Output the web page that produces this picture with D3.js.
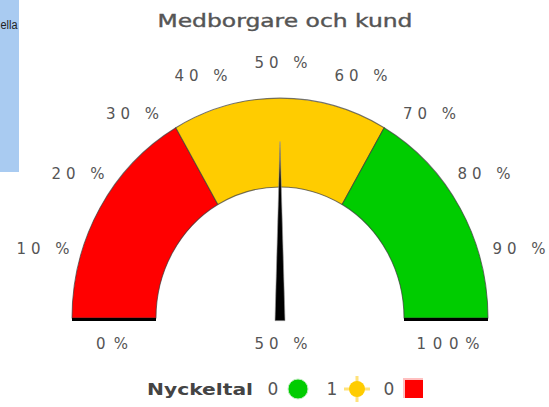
<!DOCTYPE html>
<html><head><meta charset="utf-8">
<script src="https://cdn.jsdelivr.net/npm/d3@7"></script>
<style>body{margin:0;background:#fff}svg{display:block}</style>
</head><body>
<script>
const title = "Medborgare och kund";
const bandStarts = [0, 33.3, 66.7];
const bandEnds = [33.3, 66.7, 100];
const bandColors = ["#ff0000", "#ffcc00", "#00cc00"];
const tickValues = [10, 20, 30, 40, 50, 60, 70, 80, 90];
const tickLabels = ["10 %", "20 %", "30 %", "40 %", "50 %", "60 %", "70 %", "80 %", "90 %"];
const endValues = [0, 100];
const endLabels = ["0%", "100%"];
const gaugeValue = 50;
const valueLabel = "50 %";
const legendTitle = "Nyckeltal";
const legendCounts = [0, 1, 0];
const legendColors = ["#00cc00", "#ffcc00", "#ff0000"];
const sideText = "ella";

const W = 549, H = 407;
const svg = d3.select("body").append("svg").attr("width", W).attr("height", H);

// side panel
svg.append("rect").attr("x", 0).attr("y", 0).attr("width", 19).attr("height", 172).attr("fill", "#a9cbf1");
svg.append("text").attr("x", 0.5).attr("y", 29)
  .attr("font-family", "Liberation Sans, Arial, sans-serif").attr("font-size", 12).attr("fill", "#222")
  .attr("textLength", 17).attr("lengthAdjust", "spacingAndGlyphs").text(sideText);

// title
svg.append("text").attr("x", 285).attr("y", 27).attr("text-anchor", "middle")
  .attr("font-family", "DejaVu Sans, sans-serif").attr("font-size", 18)
  .attr("fill", "#555").attr("stroke", "#555").attr("stroke-width", 0.4)
  .attr("textLength", 255).attr("lengthAdjust", "spacingAndGlyphs").text(title);

const cx = 280, cy = 318, rOuter = 208, rInner = 124, yScale = 1.057;
const angle = d3.scaleLinear().domain([0, 100]).range([-Math.PI / 2, Math.PI / 2]);

const g = svg.append("g").attr("transform", `translate(${cx},${cy}) scale(1,${yScale})`);
const arc = d3.arc().innerRadius(rInner).outerRadius(rOuter);
g.selectAll("path.band").data(bandStarts).join("path").attr("class", "band")
  .attr("d", (d, i) => arc({startAngle: angle(d), endAngle: angle(bandEnds[i])}))
  .attr("fill", (d, i) => bandColors[i])
  .attr("stroke", "#3a3a3a").attr("stroke-width", 1).attr("stroke-opacity", 0.7);

// bottom black lines under the end bands
[[-rOuter, -rInner], [rInner, rOuter]].forEach(([a, b]) => {
  svg.append("rect").attr("x", cx + a).attr("y", cy).attr("width", b - a).attr("height", 3).attr("fill", "#000");
});

// needle
const na = angle(gaugeValue);
const nLen = 167, nHalf = 5;
const tip = [nLen * Math.sin(na), -nLen * Math.cos(na)];
const bl = [-nHalf * Math.cos(na), -nHalf * Math.sin(na)];
const br = [nHalf * Math.cos(na), nHalf * Math.sin(na)];
g.append("path").attr("d", `M${bl[0]},${bl[1] + 2.5}L${tip[0]},${tip[1]}L${br[0]},${br[1] + 2.5}Z`)
  .attr("fill", "#000").attr("stroke", "#999").attr("stroke-width", 0.6);

// tick labels
const labFont = "DejaVu Sans, sans-serif";
svg.selectAll("text.tick").data(tickValues).join("text").attr("class", "tick")
  .attr("x", d => {
    const th = d / 100 * Math.PI, c = Math.cos(th);
    return 281 - (246 * c + 4 * Math.sign(Math.round(c * 1000)));
  })
  .attr("y", d => cy - 269 * Math.sin(d / 100 * Math.PI) + 14)
  .attr("text-anchor", "middle").attr("dominant-baseline", "central")
  .attr("font-family", labFont).attr("font-size", 15).attr("fill", "#555")
  .attr("textLength", 53).attr("lengthAdjust", "spacing")
  .text((d, i) => tickLabels[i]);

// end labels
const endX = d3.scaleLinear().domain([0, 100]).range([cx - (rOuter + rInner) / 2, cx + (rOuter + rInner) / 2]);
svg.selectAll("text.end").data(endValues).join("text").attr("class", "end")
  .attr("x", d => endX(d) + (d === 100 ? 2 : -2)).attr("y", 344)
  .attr("text-anchor", "middle").attr("dominant-baseline", "central")
  .attr("font-family", labFont).attr("font-size", 15).attr("fill", "#555")
  .attr("textLength", (d, i) => i === 0 ? 32 : 63).attr("lengthAdjust", "spacing")
  .text((d, i) => endLabels[i]);

// value label
svg.append("text").attr("x", 281).attr("y", 344).attr("text-anchor", "middle").attr("dominant-baseline", "central")
  .attr("font-family", labFont).attr("font-size", 15).attr("fill", "#555")
  .attr("textLength", 53).attr("lengthAdjust", "spacing").text(valueLabel);

// legend
const ly = 389;
svg.append("text").attr("x", 147).attr("y", ly).attr("dominant-baseline", "central")
  .attr("font-family", "DejaVu Sans, sans-serif").attr("font-size", 16).attr("font-weight", "bold")
  .attr("fill", "#444").attr("textLength", 106).attr("lengthAdjust", "spacingAndGlyphs").text(legendTitle);
const numX = [273, 332, 389];
const symX = [298, 357, 414];
svg.selectAll("text.lnum").data(legendCounts).join("text").attr("class", "lnum")
  .attr("x", (d, i) => numX[i]).attr("y", ly).attr("text-anchor", "middle").attr("dominant-baseline", "central")
  .attr("font-family", labFont).attr("font-size", 17).attr("fill", "#555").text(d => d);
// green circle
svg.append("circle").attr("cx", symX[0]).attr("cy", ly).attr("r", 10).attr("fill", legendColors[0])
  .attr("stroke", "#bfeebf").attr("stroke-width", 1);
// yellow sun
const sg = svg.append("g").attr("transform", `translate(${symX[1]},${ly})`);
sg.append("rect").attr("x", -13).attr("y", -1.5).attr("width", 26).attr("height", 3).attr("fill", "#ffe27a");
sg.append("rect").attr("x", -1.5).attr("y", -13).attr("width", 3).attr("height", 26).attr("fill", "#ffe27a");
sg.append("circle").attr("r", 8).attr("fill", legendColors[1]);
// red square
svg.append("rect").attr("x", symX[2] - 9).attr("y", ly - 9).attr("width", 18).attr("height", 18)
  .attr("fill", legendColors[2]);
svg.append("rect").attr("x", symX[2] - 11).attr("y", ly - 11).attr("width", 20).attr("height", 2).attr("fill", "#ffc0c0");
svg.append("rect").attr("x", symX[2] - 11).attr("y", ly - 9).attr("width", 2).attr("height", 18).attr("fill", "#ffc0c0");
</script>
</body></html>
